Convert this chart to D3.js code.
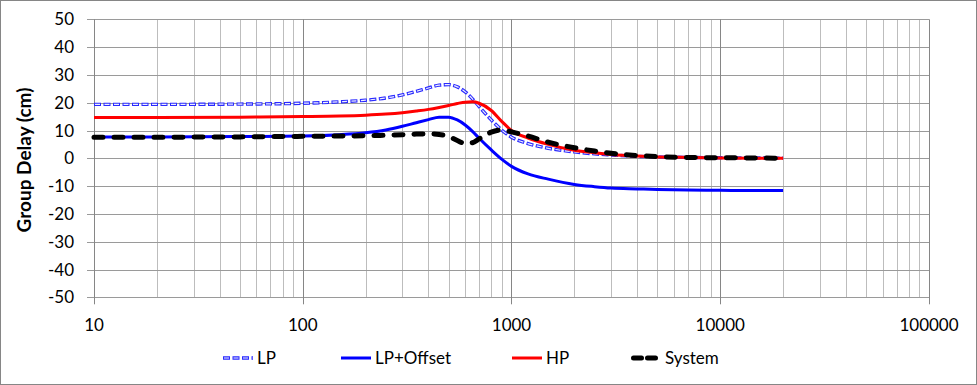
<!DOCTYPE html>
<html>
<head>
<meta charset="utf-8">
<script src="https://cdn.jsdelivr.net/npm/d3@7"></script>
<style>
    body { margin: 0; background: #ffffff; }
    svg text { font-family: Lato, "Liberation Sans", sans-serif; fill: #000000; }
</style>
</head>
<body>
<svg id="delay-chart"></svg>
<script>
/*--------------------------------------------------------------------------------
----- GROUP DELAY CHART (log frequency axis, four filter curves)
--------------------------------------------------------------------------------*/

const freq_points = [10, 20, 50, 100, 150, 200, 250, 300, 350, 400, 450, 500, 550, 600, 650,
    700, 800, 900, 1000, 1200, 1500, 2000, 2500, 3000, 4000, 5000, 7000, 10000, 15000, 20000];

// Group delay values (cm) for every series
const lp_values = [19.4, 19.4, 19.5, 19.8, 20.3, 20.9, 21.7, 22.8, 24.1, 25.3, 26.3, 26.5, 25.7, 23.9, 21.4,
    18.6, 13.8, 10.1, 7.6, 5.3, 3.6, 2.3, 1.6, 1.2, 0.7, 0.5, 0.3, 0.2, 0.1, 0.05];
const lp_offset_values = [7.7, 7.7, 7.8, 8.0, 8.5, 9.2, 10.2, 11.5, 12.8, 13.9, 14.8, 14.8, 13.8, 12.0, 9.7,
    7.2, 3.0, -0.4, -2.9, -5.6, -7.5, -9.4, -10.2, -10.7, -11.0, -11.2, -11.4, -11.5, -11.6, -11.6];
const hp_values = [14.7, 14.7, 14.8, 15.0, 15.2, 15.5, 15.9, 16.4, 17.0, 17.6, 18.3, 19.0, 19.7, 20.2, 20.3,
    19.8, 17.2, 13.2, 10.0, 7.3, 5.0, 2.9, 2.0, 1.4, 0.8, 0.5, 0.3, 0.15, 0.05, 0];
const system_values = [7.6, 7.6, 7.7, 7.9, 8.0, 8.1, 8.3, 8.5, 8.7, 8.8, 8.6, 7.8, 6.4, 5.3, 5.6,
    7.0, 9.4, 10.2, 9.5, 8.0, 5.8, 3.8, 2.6, 1.8, 1.0, 0.6, 0.3, 0.2, 0.1, 0];

// Axis tick labels
const x_tick_values = [10, 100, 1000, 10000, 100000];
const y_tick_values = [-50, -40, -30, -20, -10, 0, 10, 20, 30, 40, 50];
const series_names = ["LP", "LP+Offset", "HP", "System"];

// Chart dimensions
const chart_width = 977, chart_height = 385;
const plot = { left: 94, right: 929, top: 19.3, bottom: 297.3 };

const svg = d3.select("#delay-chart")
    .attr("width", chart_width)
    .attr("height", chart_height);

// Outer border of the chart area
svg.append("rect")
    .attr("x", 0.5).attr("y", 0.5)
    .attr("width", chart_width - 1).attr("height", chart_height - 1)
    .attr("fill", "#ffffff")
    .attr("stroke", "#868686");

// Scales
const x_scale = d3.scaleLog()
    .domain([10, 100000])
    .range([plot.left, plot.right]);
const y_scale = d3.scaleLinear()
    .domain([-50, 50])
    .range([plot.bottom, plot.top]);

// Minor vertical gridlines (2..9 in each decade)
const minor_ticks = x_scale.ticks().filter(d => x_tick_values.indexOf(d) < 0);
svg.append("g")
    .selectAll("line")
    .data(minor_ticks)
    .enter()
    .append("line")
    .attr("x1", d => Math.round(x_scale(d)) + 0.5)
    .attr("x2", d => Math.round(x_scale(d)) + 0.5)
    .attr("y1", plot.top)
    .attr("y2", plot.bottom)
    .attr("stroke", "#bdbdbd")
    .attr("stroke-width", 1);

// Horizontal gridlines
svg.append("g")
    .selectAll("line")
    .data(y_tick_values)
    .enter()
    .append("line")
    .attr("x1", plot.left - 7)
    .attr("x2", plot.right)
    .attr("y1", d => Math.round(y_scale(d)) + 0.5)
    .attr("y2", d => Math.round(y_scale(d)) + 0.5)
    .attr("stroke", "#9a9a9a")
    .attr("stroke-width", 1);

// Major vertical gridlines (decades), with tick marks below the plot
svg.append("g")
    .selectAll("line")
    .data(x_tick_values)
    .enter()
    .append("line")
    .attr("x1", d => Math.round(x_scale(d)) + 0.5)
    .attr("x2", d => Math.round(x_scale(d)) + 0.5)
    .attr("y1", plot.top)
    .attr("y2", plot.bottom + 7)
    .attr("stroke", "#868686")
    .attr("stroke-width", 1);

// Y tick labels
svg.append("g")
    .selectAll("text")
    .data(y_tick_values)
    .enter()
    .append("text")
    .attr("x", 74)
    .attr("y", d => y_scale(d))
    .attr("dy", "0.36em")
    .attr("text-anchor", "end")
    .attr("font-size", 17)
    .text(d => d);

// X tick labels
svg.append("g")
    .selectAll("text")
    .data(x_tick_values)
    .enter()
    .append("text")
    .attr("x", d => x_scale(d))
    .attr("y", 325)
    .attr("dy", "0.36em")
    .attr("text-anchor", "middle")
    .attr("font-size", 17)
    .text(d => d);

// Y axis title
svg.append("text")
    .attr("transform", "translate(31,160) rotate(-90)")
    .attr("text-anchor", "middle")
    .attr("font-size", 19)
    .attr("font-weight", "bold")
    .text("Group Delay (cm)");

// Line generator
const delay_line = d3.line()
    .x((d, i) => x_scale(freq_points[i]))
    .y(d => y_scale(d))
    .curve(d3.curveMonotoneX);

// LP: hollow blue dashes (outline + light inner dash)
svg.append("path")
    .datum(lp_values)
    .attr("d", delay_line)
    .attr("fill", "none")
    .attr("stroke", "#2a2aff")
    .attr("stroke-width", 3.4)
    .attr("stroke-dasharray", "7 2.5");
svg.append("path")
    .datum(lp_values)
    .attr("d", delay_line)
    .attr("fill", "none")
    .attr("stroke", "#eef0ff")
    .attr("stroke-width", 1.2)
    .attr("stroke-dasharray", "5 4.5")
    .attr("stroke-dashoffset", -1);

// LP+Offset
svg.append("path")
    .datum(lp_offset_values)
    .attr("d", delay_line)
    .attr("fill", "none")
    .attr("stroke", "#0000ff")
    .attr("stroke-width", 3);

// HP
svg.append("path")
    .datum(hp_values)
    .attr("d", delay_line)
    .attr("fill", "none")
    .attr("stroke", "#ff0000")
    .attr("stroke-width", 3);

// System: thick black dashes
svg.append("path")
    .datum(system_values)
    .attr("d", delay_line)
    .attr("fill", "none")
    .attr("stroke", "#000000")
    .attr("stroke-width", 5)
    .attr("stroke-linecap", "round")
    .attr("stroke-dasharray", "9 11");

// Legend
const legend_y = 358;
const legend_items = [
    { name: series_names[0], x: 223 },
    { name: series_names[1], x: 341 },
    { name: series_names[2], x: 512 },
    { name: series_names[3], x: 631 }
];
const legend = svg.append("g");

// LP symbol
legend.append("line")
    .attr("x1", legend_items[0].x).attr("x2", legend_items[0].x + 30)
    .attr("y1", legend_y).attr("y2", legend_y)
    .attr("stroke", "#2a2aff").attr("stroke-width", 3.4)
    .attr("stroke-dasharray", "7 2.5");
legend.append("line")
    .attr("x1", legend_items[0].x).attr("x2", legend_items[0].x + 30)
    .attr("y1", legend_y).attr("y2", legend_y)
    .attr("stroke", "#eef0ff").attr("stroke-width", 1.2)
    .attr("stroke-dasharray", "5 4.5").attr("stroke-dashoffset", -1);

// LP+Offset symbol
legend.append("line")
    .attr("x1", legend_items[1].x).attr("x2", legend_items[1].x + 30)
    .attr("y1", legend_y).attr("y2", legend_y)
    .attr("stroke", "#0000ff").attr("stroke-width", 3);

// HP symbol
legend.append("line")
    .attr("x1", legend_items[2].x).attr("x2", legend_items[2].x + 30)
    .attr("y1", legend_y).attr("y2", legend_y)
    .attr("stroke", "#ff0000").attr("stroke-width", 3);

// System symbol
legend.append("line")
    .attr("x1", legend_items[3].x + 2.5).attr("x2", legend_items[3].x + 29)
    .attr("y1", legend_y).attr("y2", legend_y)
    .attr("stroke", "#000000").attr("stroke-width", 5)
    .attr("stroke-linecap", "round")
    .attr("stroke-dasharray", "8 6");

// Legend labels
legend.selectAll("text")
    .data(legend_items)
    .enter()
    .append("text")
    .attr("x", d => d.x + 34)
    .attr("y", legend_y)
    .attr("dy", "0.36em")
    .attr("font-size", 17)
    .text(d => d.name);
</script>
</body>
</html>
